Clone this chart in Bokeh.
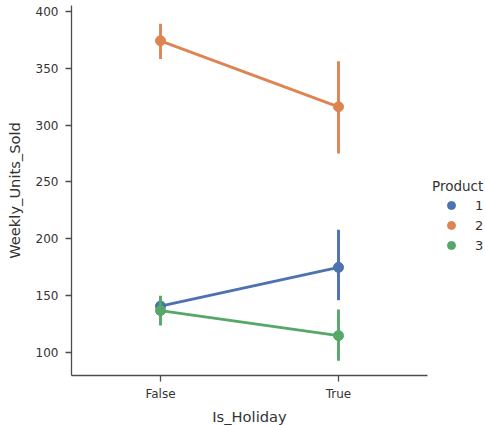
from bokeh.plotting import figure
from bokeh.models import FactorRange, Range1d, FixedTicker, Legend, LegendItem
from bokeh.embed import file_html
from bokeh.resources import INLINE

categories = ["False", "True"]
products = ["1", "2", "3"]
colors = ["#4C72B0", "#DD8452", "#55A868"]
means = {"1": [141, 175], "2": [374, 316], "3": [137, 115]}
ci_low = {"1": [135, 146], "2": [358, 275], "3": [124, 93]}
ci_high = {"1": [147, 208], "2": [389, 356], "3": [150, 138]}
y_ticks = [100, 150, 200, 250, 300, 350, 400]

FONT = "DejaVu Sans"
TXT = "#333333"
AX = "#4d4d4d"

p = figure(x_range=FactorRange(*categories, range_padding=0), y_range=Range1d(80, 405),
           frame_width=356, frame_height=370, output_backend="svg", toolbar_location=None,
           min_border_left=71, min_border_top=5, min_border_bottom=50, min_border_right=58)
p.background_fill_color = "white"
p.border_fill_color = "white"
p.outline_line_color = None
p.grid.visible = False

items = []
for prod, col in zip(products, colors):
    p.line(categories, means[prod], line_color=col, line_width=2.9)
    p.segment(x0=categories, y0=ci_low[prod], x1=categories, y1=ci_high[prod],
              line_color=col, line_width=2.9)
    r = p.scatter(categories, means[prod], size=10, fill_color=col, line_color=col)
    items.append(LegendItem(label=prod, renderers=[r]))

legend = Legend(items=items, title="Product", border_line_alpha=0, background_fill_alpha=0,
                label_text_font=FONT, label_text_font_size="13px", label_text_color=TXT,
                title_text_font=FONT, title_text_font_size="13.5px", title_text_color=TXT,
                title_text_font_style="normal", spacing=0, label_height=20, glyph_height=20,
                glyph_width=38, padding=0, margin=0, label_standoff=5, title_standoff=1,
                location=(5, 120))
p.add_layout(legend, "right")

for ax in (p.xaxis, p.yaxis):
    ax.axis_line_color = AX
    ax.axis_line_width = 1.3
    ax.major_tick_line_color = AX
    ax.major_tick_line_width = 1.3
    ax.major_tick_out = 6
    ax.major_tick_in = 0
    ax.minor_tick_line_color = None
    ax.major_label_text_font = FONT
    ax.major_label_text_font_size = "12px"
    ax.major_label_text_color = TXT
    ax.axis_label_text_font = FONT
    ax.axis_label_text_font_size = "14.67px"
    ax.axis_label_text_font_style = "normal"
    ax.axis_label_text_color = TXT

p.xaxis.axis_label = "Is_Holiday"
p.yaxis.axis_label = "Weekly_Units_Sold"
p.yaxis.ticker = FixedTicker(ticks=y_ticks)
p.yaxis.major_label_standoff = 7
p.yaxis.axis_label_standoff = 10
p.xaxis.major_label_standoff = 5
p.xaxis.axis_label_standoff = 4

open("out.html", "w").write(file_html(p, INLINE))
